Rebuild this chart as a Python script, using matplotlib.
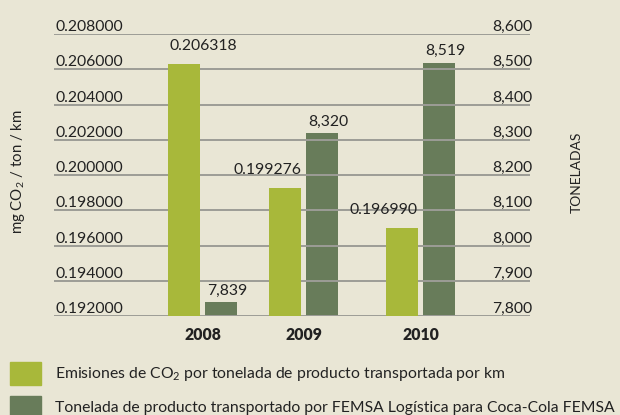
import matplotlib
matplotlib.use("Agg")
import matplotlib.pyplot as plt
from matplotlib.patches import Rectangle

plt.rcParams['font.family'] = ['Lato', 'DejaVu Sans']
plt.rcParams['mathtext.fontset'] = 'custom'
plt.rcParams['mathtext.rm'] = 'Lato'

# data
years = ['2008', '2009', '2010']
emisiones = [0.206318, 0.199276, 0.196990]
toneladas = [7839, 8320, 8519]
left_ticks = [0.192, 0.194, 0.196, 0.198, 0.200, 0.202, 0.204, 0.206, 0.208]
right_ticks = [7800, 7900, 8000, 8100, 8200, 8300, 8400, 8500, 8600]

bg = '#e9e6d5'
light = '#a8b83a'
dark = '#687c5a'
grid = '#9c9c96'
txt = '#222222'
fs = 11.3

# layout (group centres, not data)
xpos = [1.49, 2.50, 3.67]
w = 0.32

fig = plt.figure(figsize=(6.2, 4.15), dpi=100, facecolor=bg)
ax = fig.add_axes([54 / 620, 99 / 415, 476 / 620, 282 / 415])
ax.set_facecolor(bg)
ax2 = ax.twinx()
ax.set_zorder(ax2.get_zorder() + 1)
ax.patch.set_visible(False)

ax.set_xlim(0, 4.76)
ax.set_ylim(left_ticks[0], left_ticks[-1])
ax2.set_ylim(right_ticks[0], right_ticks[-1])

for v in left_ticks:
    ax.axhline(v, color=grid, lw=1.4, zorder=0)
    ax.text(0.004, v, f'{v:.6f}', transform=ax.get_yaxis_transform(),
            ha='left', va='bottom', fontsize=fs, color=txt)
for v in right_ticks:
    ax2.text(1.004, v, f'{v:,}', transform=ax2.get_yaxis_transform(),
             ha='right', va='bottom', fontsize=fs, color=txt)

gx = [x - 0.19 for x in xpos]
dx = [x + 0.185 for x in xpos]
ax.bar(gx, emisiones, width=w, color=light, zorder=2, bottom=0)
ax2.bar(dx, toneladas, width=w, color=dark, zorder=2)
ax.set_ylim(left_ticks[0], left_ticks[-1])

# value labels
g_align = ['center', 'right', 'right']
for i, v in enumerate(emisiones):
    x = xpos[i] if g_align[i] == 'center' else gx[i] + w / 2
    ax.annotate(f'{v:.6f}', (x, v), xytext=(0, 8), textcoords='offset points',
                ha=g_align[i], va='bottom', fontsize=fs, color=txt)
for i, v in enumerate(toneladas):
    ax2.annotate(f'{v:,}', (dx[i] + 0.06, v), xytext=(0, 3), textcoords='offset points',
                 ha='center', va='bottom', fontsize=fs, color=txt)

for a in (ax, ax2):
    for s in a.spines.values():
        s.set_visible(False)
    a.set_yticks([])
ax.set_xticks(xpos)
ax.set_xticklabels(years, fontweight='heavy', fontsize=fs, color=txt)
ax.tick_params(axis='x', length=0, pad=8)

fig.text(18 / 620, 1 - 172 / 415, 'mg CO$_2$ / ton / km', rotation=90,
         ha='center', va='center', fontsize=10.8, color=txt)
fig.text(577 / 620, 1 - 172 / 415, 'TONELADAS', rotation=90,
         ha='center', va='center', fontsize=10, color=txt)

# legend
fig.patches.append(Rectangle((10 / 620, 30 / 415), 31 / 620, 23 / 415,
                             transform=fig.transFigure, color=light))
fig.patches.append(Rectangle((10 / 620, -4 / 415), 31 / 620, 23 / 415,
                             transform=fig.transFigure, color=dark))
fig.text(55 / 620, 1 - 374 / 415, 'Emisiones de CO$_2$ por tonelada de producto transportada por km',
         ha='left', va='center', fontsize=fs, color=txt)
fig.text(55 / 620, 1 - 408 / 415, 'Tonelada de producto transportado por FEMSA Logística para Coca-Cola FEMSA',
         ha='left', va='center', fontsize=fs, color=txt)

fig.savefig('out.png', dpi=100, facecolor=bg)
